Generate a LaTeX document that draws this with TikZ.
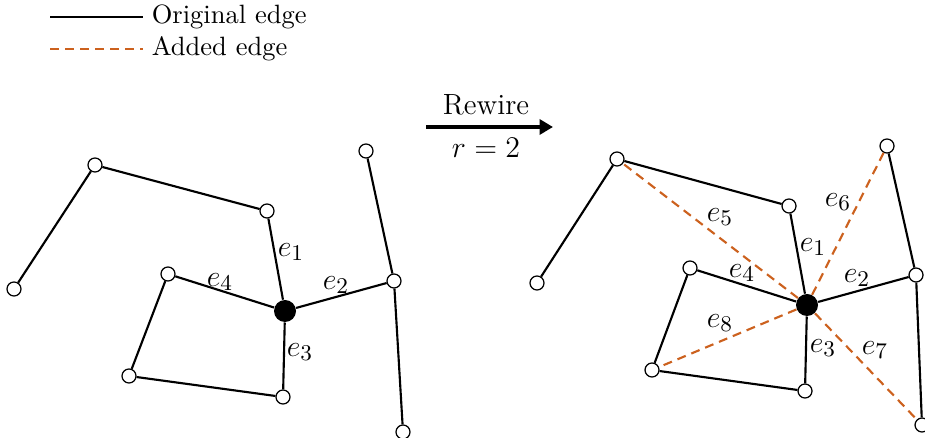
\documentclass[tikz,border=0pt]{standalone}
\usepackage{tikz}
\usetikzlibrary{arrows.meta}

\definecolor{addorange}{RGB}{204,97,30}

\begin{document}
\begin{tikzpicture}[x=0.4pt,y=-0.4pt,
    vtx/.style={circle,draw,fill=white,line width=0.5pt,inner sep=0pt,minimum size=5.6pt},
    hub/.style={circle,fill=black,inner sep=0pt,minimum size=8.8pt},
    orig/.style={line width=0.85pt},
    added/.style={line width=0.85pt,addorange,dash pattern=on 3.6pt off 2.4pt},
    lbl/.style={font=\fontsize{12.5}{14}\selectfont}]
    \useasboundingbox (0,0) rectangle (925,438);

    % Legend
    \coordinate (legA) at (50,17);
    \coordinate (legB) at (50,49);
    \node[anchor=west,font=\fontsize{10.6}{12}\selectfont] (legOrig) at (143,17) {Original edge};
    \node[anchor=west,font=\fontsize{10.6}{12}\selectfont] (legAdd) at (143,49) {Added edge};
    \draw[orig] (legA) -- (legOrig.west);
    \draw[added] (legB) -- (legAdd.west);

    % Rewire arrow
    \coordinate (arrS) at (426,127);
    \coordinate (arrE) at (553,127);
    \draw[line width=1.6pt,-{Triangle[length=5.4pt,width=6pt]}] (arrS) -- (arrE);
    \node[font=\fontsize{11.7}{14}\selectfont] (rewire) at (486,105) {Rewire};
    \node[font=\fontsize{11.7}{14}\selectfont] (rval) at (486,148) {$r=2$};

    % Left graph: vertices
    \foreach \n/\x/\y in {1/14/289, 2/95/165, 3/267/211, 4/168/274, 5/129/376,
                          6/283/397, 7/394/281, 8/366/151, 9/403/432}
        \node[vtx] (l\n) at (\x,\y) {};
    \node[hub] (lc) at (285,311) {};

    % Left graph: edges
    \foreach \a/\b in {l1/l2, l2/l3, l3/lc, lc/l7, l8/l7, l7/l9, lc/l4, l4/l5, l5/l6, l6/lc}
        \draw[orig] (\a) -- (\b);

    % Right graph: vertices
    \foreach \n/\x/\y in {1/537/283, 2/617/159, 3/789/206, 4/690/268, 5/652/370,
                          6/805/391, 7/916/275, 8/887/146, 9/922/425}
        \node[vtx] (r\n) at (\x,\y) {};
    \node[hub] (rc) at (807,305) {};

    % Right graph: original edges
    \foreach \a/\b in {r1/r2, r2/r3, r3/rc, rc/r7, r8/r7, r7/r9, rc/r4, r4/r5, r5/r6, r6/rc}
        \draw[orig] (\a) -- (\b);

    % Right graph: added edges
    \foreach \b in {r2, r8, r9, r5}
        \draw[added] (rc) -- (\b);

    % Edge labels
    \node[lbl] at (291,252) {$e_1$};
    \node[lbl] at (336,285) {$e_2$};
    \node[lbl] at (300,352) {$e_3$};
    \node[lbl] at (220,282) {$e_4$};

    \node[lbl] at (813,247) {$e_1$};
    \node[lbl] at (857,278) {$e_2$};
    \node[lbl] at (823,348) {$e_3$};
    \node[lbl] at (742,273) {$e_4$};
    \node[lbl] at (720,217) {$e_5$};
    \node[lbl] at (838,202) {$e_6$};
    \node[lbl] at (875,350) {$e_7$};
    \node[lbl] at (720,323) {$e_8$};
\end{tikzpicture}
\end{document}
